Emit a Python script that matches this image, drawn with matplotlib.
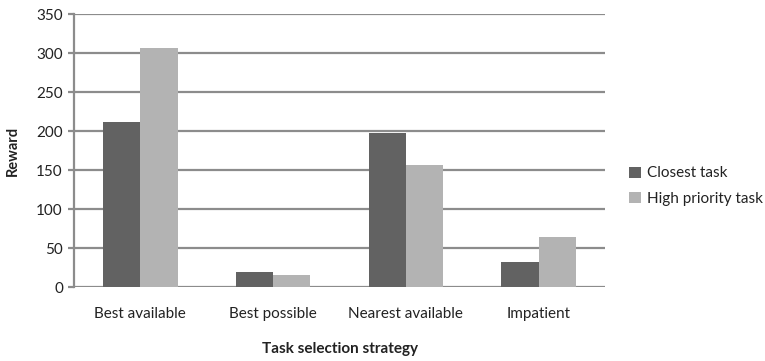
import numpy as np
import matplotlib.pyplot as plt

plt.rcParams['font.family'] = ['Lato', 'DejaVu Sans']

# Reward per task selection strategy
strategies = ['Best available', 'Best possible', 'Nearest available', 'Impatient']
closest_task = [212, 20, 198, 33]
high_priority_task = [306, 16, 157, 64]

fig = plt.figure(figsize=(7.65, 3.61), dpi=100)
ax = fig.add_axes([74 / 765, 1 - 287.3 / 361, 531 / 765, 273.3 / 361])

x = np.arange(len(strategies))
w = 0.28
ax.bar(x - w / 2, closest_task, w, color='#626262', label='Closest task', zorder=3)
ax.bar(x + w / 2, high_priority_task, w, color='#b3b3b3', label='High priority task', zorder=3)

ax.set_xlim(-0.5, len(strategies) - 0.5)
ax.set_ylim(0, 350)
ax.set_yticks(range(0, 351, 50))
ax.yaxis.grid(True, color='#8c8c8c', linewidth=1.6, zorder=0)
ax.set_axisbelow(True)

for s in ['top', 'right', 'bottom']:
    ax.spines[s].set_visible(False)
ax.spines['left'].set_color('#8c8c8c')
ax.spines['left'].set_linewidth(1.6)

ax.set_xticks(x)
ax.set_xticklabels(strategies)
ax.tick_params(axis='x', length=0, pad=14, labelsize=11, colors='#222222')
ax.tick_params(axis='y', length=4, width=1.6, color='#8c8c8c', pad=4, labelsize=11, colors='#222222')

ax.set_xlabel('Task selection strategy', fontweight='bold', fontsize=11, labelpad=15, color='#222222')
ax.set_ylabel('Reward', fontweight='bold', fontsize=10.5, labelpad=12, color='#222222')

ax.legend(loc='center left', bbox_to_anchor=(1.02, 0.37), frameon=False,
          fontsize=11, handlelength=0.75, handleheight=0.75, handletextpad=0.4,
          labelspacing=0.75, labelcolor='#222222')

fig.savefig('out.png', dpi=100)
